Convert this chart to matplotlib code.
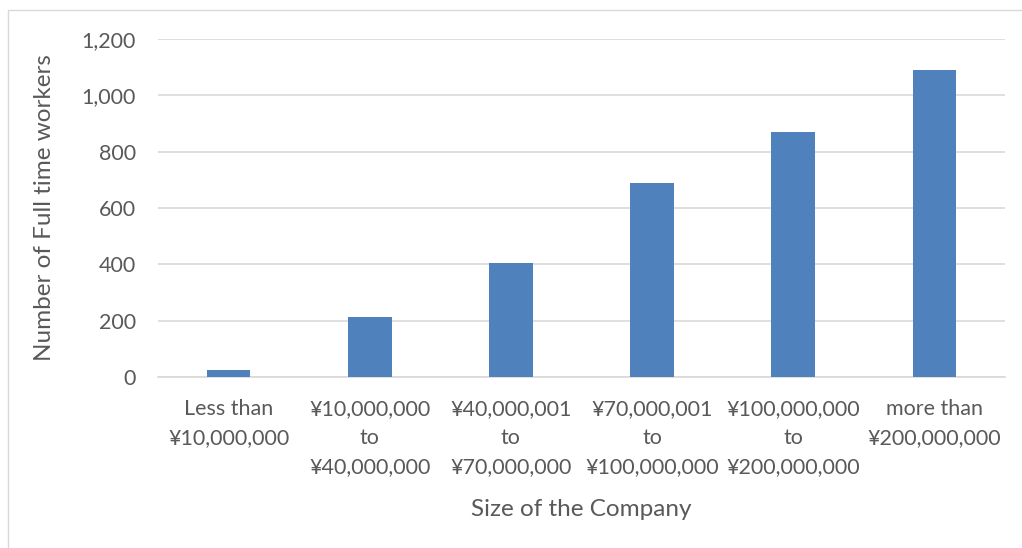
import matplotlib.pyplot as plt
from matplotlib.patches import Rectangle
from matplotlib.ticker import FuncFormatter, MultipleLocator

categories = [
    "Less than\n¥10,000,000",
    "¥10,000,000\nto\n¥40,000,000",
    "¥40,000,001\nto\n¥70,000,000",
    "¥70,000,001\nto\n¥100,000,000",
    "¥100,000,000\nto\n¥200,000,000",
    "more than\n¥200,000,000",
]
workers = [25, 213, 405, 689, 870, 1090]

text_color = "#595959"
bar_color = "#4f81bd"
grid_color = "#d9d9d9"

plt.rcParams["font.family"] = ["Lato", "DejaVu Sans"]

fig = plt.figure(figsize=(10.22, 5.48), dpi=100)
fig.patches.append(Rectangle((8 / 1022, -0.1), 1.2, 1 - 10 / 548 + 0.1,
                             transform=fig.transFigure, fill=False,
                             edgecolor="#d9d9d9", linewidth=1.0))

ax = fig.add_axes([158 / 1022, 1 - 377 / 548, (1005 - 158) / 1022, (377 - 39) / 548])
x = range(len(categories))
ax.bar(x, workers, width=0.31, color=bar_color, zorder=3)

ax.set_xlim(-0.5, len(categories) - 0.5)
ax.set_ylim(0, 1200)
ax.yaxis.set_major_locator(MultipleLocator(200))
ax.yaxis.set_major_formatter(FuncFormatter(lambda v, p: f"{int(v):,}"))
ax.grid(axis="y", color=grid_color, linewidth=1.2, zorder=0)
ax.set_axisbelow(True)

for s in ["top", "right", "left"]:
    ax.spines[s].set_visible(False)
ax.spines["bottom"].set_color(grid_color)
ax.spines["bottom"].set_linewidth(1.2)

ax.set_xticks(list(x))
ax.set_xticklabels(categories, linespacing=1.55, va="top")
ax.tick_params(axis="both", length=0, colors=text_color, labelsize=15.5)
ax.tick_params(axis="y", pad=16)
ax.tick_params(axis="x", pad=16)

ax.set_xlabel("Size of the Company", fontsize=17.5, color=text_color, labelpad=16)
ax.set_ylabel("Number of Full time workers", fontsize=17.5, color=text_color, labelpad=19)

fig.savefig("out.png", dpi=100)
